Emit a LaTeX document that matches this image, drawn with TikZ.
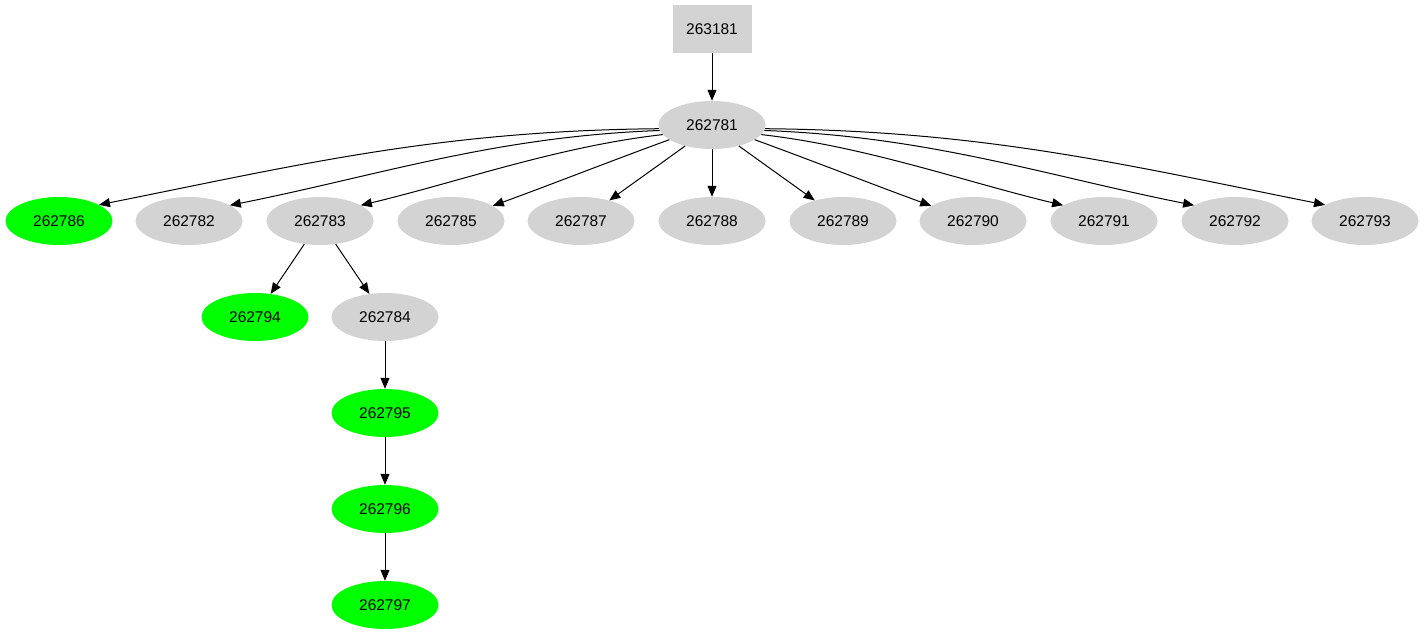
\documentclass[tikz,border=0pt]{standalone}
\usepackage{fontspec}
\setmainfont{Liberation Sans}
\usetikzlibrary{shapes.geometric,arrows.meta}
\definecolor{lightgraycol}{HTML}{D3D3D3}
\definecolor{greencol}{HTML}{00FF00}
\begin{document}
\begin{tikzpicture}[x=1pt,y=1pt,
  every node/.style={font=\fontsize{15.5}{18}\selectfont, inner sep=0pt},
  gnode/.style={ellipse, fill=lightgraycol, minimum width=107pt, minimum height=48pt},
  leaf/.style={ellipse, fill=greencol, minimum width=107pt, minimum height=48pt},
  boxnode/.style={rectangle, fill=lightgraycol, minimum width=79pt, minimum height=48pt},
  conn/.style={draw=black, line width=1pt, -{Triangle[length=11pt,width=9pt]}}]
\useasboundingbox (0,0) rectangle (1424,635);
\node[boxnode] (n263181) at (712,606) {263181};
\node[gnode] (n262781) at (712,510) {262781};
\node[leaf]  (n262786) at (59,414) {262786};
\node[gnode] (n262782) at (189,414) {262782};
\node[gnode] (n262783) at (320,414) {262783};
\node[gnode] (n262785) at (451,414) {262785};
\node[gnode] (n262787) at (581,414) {262787};
\node[gnode] (n262788) at (712,414) {262788};
\node[gnode] (n262789) at (843,414) {262789};
\node[gnode] (n262790) at (973,414) {262790};
\node[gnode] (n262791) at (1104,414) {262791};
\node[gnode] (n262792) at (1235,414) {262792};
\node[gnode] (n262793) at (1365,414) {262793};
\node[leaf]  (n262794) at (255,318) {262794};
\node[gnode] (n262784) at (385,318) {262784};
\node[leaf]  (n262795) at (385,222) {262795};
\node[leaf]  (n262796) at (385,126) {262796};
\node[leaf]  (n262797) at (385,30) {262797};
\draw[conn] (n263181) -- (n262781);
\draw[conn] (n262781.184) .. controls +(-220,-2) and +(200,40) .. (n262786.22);
\draw[conn] (n262781.186) .. controls +(-165,-6) and +(150,30) .. (n262782.21);
\draw[conn] (n262781.191) .. controls +(-105,-12) and +(100,24) .. (n262783.21);
\draw[conn] (n262781.199) .. controls +(-55,-20) and +(55,20) .. (n262785.20);
\draw[conn] (n262781.218) .. controls +(-25,-18) and +(25,18) .. (n262787.36);
\draw[conn] (n262781) -- (n262788);
\draw[conn] (n262781.322) .. controls +(25,-18) and +(-25,18) .. (n262789.144);
\draw[conn] (n262781.341) .. controls +(55,-20) and +(-55,20) .. (n262790.160);
\draw[conn] (n262781.349) .. controls +(105,-12) and +(-100,24) .. (n262791.159);
\draw[conn] (n262781.354) .. controls +(165,-6) and +(-150,30) .. (n262792.159);
\draw[conn] (n262781.356) .. controls +(220,-2) and +(-200,40) .. (n262793.158);
\draw[conn] (n262783) -- (n262794);
\draw[conn] (n262783) -- (n262784);
\draw[conn] (n262784) -- (n262795);
\draw[conn] (n262795) -- (n262796);
\draw[conn] (n262796) -- (n262797);
\end{tikzpicture}
\end{document}
